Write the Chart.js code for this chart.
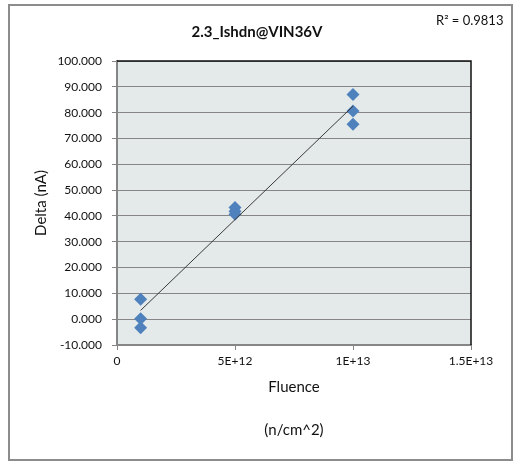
<!DOCTYPE html>
<html>
<head>
<meta charset="utf-8">
<script src="https://cdn.jsdelivr.net/npm/chart.js@4"></script>
<style>
    body { margin: 0; background: #fff; }
</style>
</head>
<body>
<canvas id="chart" width="515" height="462"></canvas>
<script>
// data
const fluence = [1e12, 1e12, 1e12, 5e12, 5e12, 5e12, 1e13, 1e13, 1e13];
const delta = [7.7, 0.2, -3.3, 43.3, 41.8, 40.6, 87.0, 80.6, 75.5];
const xTickLabels = ["0", "5E+12", "1E+13", "1.5E+13"];
const chartTitle = "2.3_Ishdn@VIN36V";
const rSquaredLabel = "R² = 0.9813";

// linear trend line (least squares) from the points
function linearFit(xs, ys) {
    const n = xs.length;
    const mx = xs.reduce((a, b) => a + b, 0) / n;
    const my = ys.reduce((a, b) => a + b, 0) / n;
    let sxy = 0, sxx = 0;
    xs.forEach((x, i) => {
        sxy += (x - mx) * (ys[i] - my);
        sxx += (x - mx) * (x - mx);
    });
    const slope = sxy / sxx;
    return { slope: slope, intercept: my - slope * mx };
}
const fit = linearFit(fluence, delta);
const xLo = Math.min(...fluence);
const xHi = Math.max(...fluence);
const trendPoints = [
    { x: xLo, y: fit.intercept + fit.slope * xLo },
    { x: xHi, y: fit.intercept + fit.slope * xHi }
];

const FONT = "Lato";
const GRID = "#868686";

// background, frame, plot area, title and the R² text
const decorations = {
    id: "decorations",
    beforeDraw(chart) {
        const ctx = chart.ctx;
        const a = chart.chartArea;
        ctx.save();
        ctx.fillStyle = "#fff";
        ctx.fillRect(0, 0, chart.width, chart.height);
        ctx.strokeStyle = "#8c8c8c";
        ctx.lineWidth = 2;
        ctx.strokeRect(9, 5, 503, 455);
        ctx.fillStyle = "#e4eaea";
        ctx.fillRect(a.left, a.top, a.right - a.left, a.bottom - a.top);
        ctx.restore();
    },
    afterDraw(chart) {
        const ctx = chart.ctx;
        const a = chart.chartArea;
        ctx.save();
        ctx.strokeStyle = "#111";
        ctx.lineWidth = 1.5;
        ctx.beginPath();
        ctx.moveTo(a.left, a.top);
        ctx.lineTo(a.right, a.top);
        ctx.lineTo(a.right, a.bottom);
        ctx.stroke();
        ctx.fillStyle = "#111";
        ctx.textBaseline = "middle";
        // chart title
        ctx.font = "bold 15px " + FONT;
        ctx.textAlign = "center";
        ctx.fillText(chartTitle, 257, 32);
        // R² of the trend line
        ctx.font = "13px " + FONT;
        ctx.textAlign = "left";
        ctx.fillText(rSquaredLabel, 436, 21);
        ctx.restore();
    }
};

const ctx = document.getElementById("chart").getContext("2d");
const chart = new Chart(ctx, {
    data: {
        datasets: [
            {
                type: "line",
                data: trendPoints,
                borderColor: "#3a3a3a",
                borderWidth: 1,
                pointRadius: 0,
                fill: false,
                order: 0
            },
            {
                type: "scatter",
                data: fluence.map((x, i) => ({ x: x, y: delta[i] })),
                pointStyle: "rectRot",
                pointRadius: 6.5,
                backgroundColor: "#4f81bd",
                borderColor: "#4f81bd",
                borderWidth: 0,
                order: 1
            }
        ]
    },
    options: {
        responsive: false,
        animation: false,
        layout: { padding: { left: 10, top: 61, right: 44, bottom: 10 } },
        plugins: {
            legend: { display: false },
            tooltip: { enabled: false },
            title: { display: false }
        },
        scales: {
            x: {
                type: "linear",
                min: 0,
                max: 1.5e13,
                ticks: {
                    stepSize: 5e12,
                    maxRotation: 0,
                    padding: 4,
                    color: "#111",
                    font: { family: FONT, size: 12 },
                    callback: (v, i) => xTickLabels[i]
                },
                grid: { drawOnChartArea: false, tickLength: 5, color: GRID },
                border: { color: GRID, width: 2 },
                title: {
                    display: true,
                    text: ["Fluence", "(n/cm^2)"],
                    color: "#111",
                    font: { family: FONT, size: 15, lineHeight: "43px" },
                    padding: { top: 0, bottom: 0.5 }
                },
                afterFit: s => { s.height = 107; }
            },
            y: {
                min: -10,
                max: 100,
                ticks: {
                    stepSize: 10,
                    padding: 10,
                    color: "#111",
                    font: { family: FONT, size: 12 },
                    callback: v => v.toFixed(3)
                },
                grid: { tickLength: 5, color: GRID, lineWidth: 1 },
                border: { color: GRID, width: 2 },
                title: {
                    display: true,
                    text: "Delta (nA)",
                    color: "#111",
                    font: { family: FONT, size: 15, lineHeight: 1.2 },
                    padding: { top: 22, bottom: 0 }
                },
                afterFit: s => { s.width = 107; }
            }
        }
    },
    plugins: [decorations]
});
</script>
</body>
</html>
